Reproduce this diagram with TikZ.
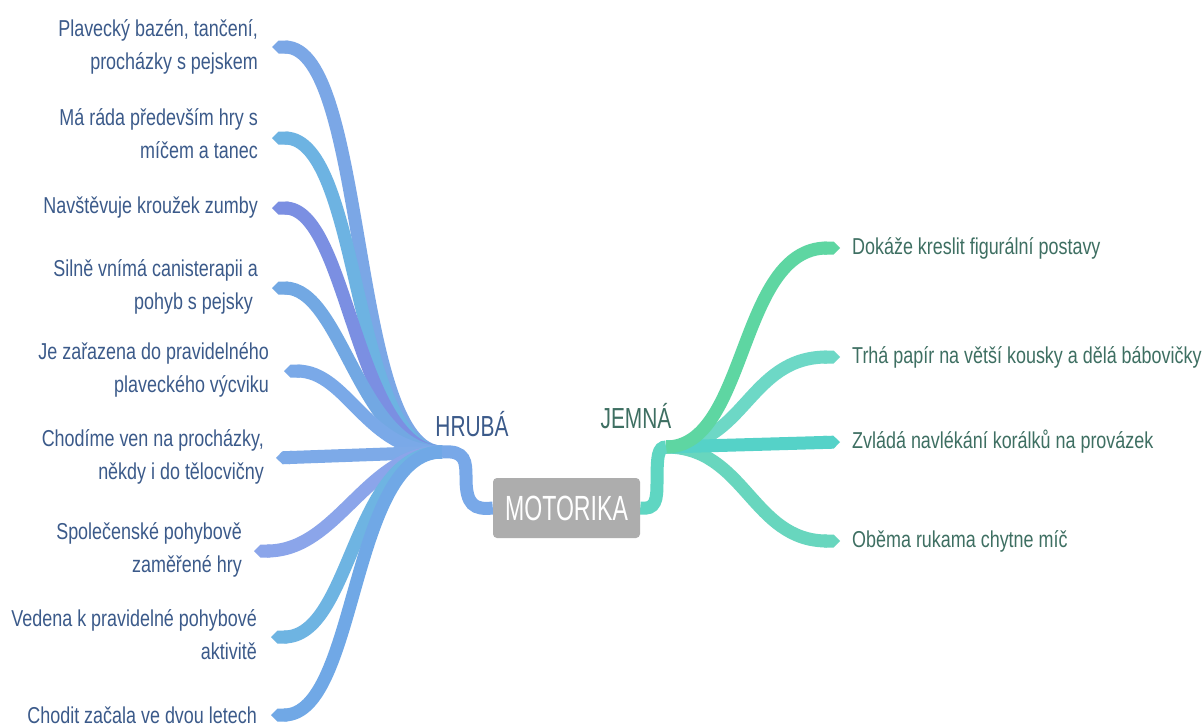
\documentclass[tikz,border=0pt]{standalone}
\usepackage{fontspec}
\setmainfont{Liberation Sans}[FakeStretch=0.78]
\newfontfamily\headfont{Liberation Sans}[FakeStretch=0.72]
\newfontfamily\rootfont{Liberation Sans}[FakeStretch=0.66]
\usetikzlibrary{arrows.meta,backgrounds}

\definecolor{leftink}{HTML}{3B5A8A}
\definecolor{rightink}{HTML}{3E6F62}
\definecolor{rootgray}{HTML}{ADADAD}
\definecolor{bA}{HTML}{7BA7E6}
\definecolor{bB}{HTML}{6DB3E2}
\definecolor{bC}{HTML}{7B8FE2}
\definecolor{bD}{HTML}{72A8E3}
\definecolor{bE}{HTML}{7AA9E8}
\definecolor{bF}{HTML}{7DAAE8}
\definecolor{bG}{HTML}{8BA5EA}
\definecolor{bH}{HTML}{6EB4E2}
\definecolor{bI}{HTML}{70A8E6}
\definecolor{gA}{HTML}{5ED6A2}
\definecolor{gB}{HTML}{6DD8C6}
\definecolor{gC}{HTML}{55D2C8}
\definecolor{gD}{HTML}{68D6BE}
\definecolor{conL}{HTML}{78A8E8}
\definecolor{conR}{HTML}{5FD6C2}

\tikzset{
  leafL/.style={anchor=east, align=right, text=leftink, inner sep=0pt,
    font=\fontsize{23}{33}\selectfont},
  leafR/.style={anchor=west, text=rightink, inner sep=0pt,
    font=\fontsize{23}{33}\selectfont},
  headL/.style={text=leftink, inner sep=0pt, font=\headfont\fontsize{29}{29}\selectfont},
  headR/.style={text=rightink, inner sep=0pt, font=\headfont\fontsize{29}{29}\selectfont},
  rootbox/.style={fill=rootgray, rounded corners=4pt, text=white, inner sep=0pt,
    minimum width=147pt, minimum height=60pt,
    font=\rootfont\fontsize{35}{35}\selectfont},
  branch/.style={line width=13pt, -{Triangle Cap}},
  link/.style={line width=13pt, line cap=butt}
}

\begin{document}
\begin{tikzpicture}[x=1pt, y=-1pt]
\useasboundingbox (0,0) rectangle (1204,726);

% central topic
\node[rootbox] (motorika) at (566.5,508) {MOTORIKA};

% branch labels
\node[headL] (hruba) at (472,424) {HRUBÁ};
\node[headR] (jemna) at (636,416) {JEMNÁ};

% hubs
\coordinate (hubL) at (442,452);
\coordinate (hubR) at (666,447);

% left leaves
\node[leafL] (l1) at (258,47) {Plavecký bazén, tančení,\\procházky s pejskem};
\node[leafL] (l2) at (258,134) {Má ráda především hry s\\míčem a tanec};
\node[leafL] (l3) at (258,208) {Navštěvuje kroužek zumby};
\node[leafL] (l4) at (258,287) {Silně vnímá canisterapii a\\pohyb s pejsky\phantom{ }};
\node[leafL] (l5) at (269,370) {Je zařazena do pravidelného\\plaveckého výcviku};
\node[leafL] (l6) at (264,457) {Chodíme ven na procházky,\\někdy i do tělocvičny};
\node[leafL] (l7) at (242,550) {Společenské pohybově\\zaměřené hry};
\node[leafL] (l8) at (257,635) {Vedena k pravidelné pohybové\\aktivitě};
\node[leafL] (l9) at (257,715) {Chodit začala ve dvou letech};

% right leaves
\node[leafR] (r1) at (852,248) {Dokáže kreslit figurální postavy};
\node[leafR] (r2) at (852,357) {Trhá papír na větší kousky a dělá bábovičky};
\node[leafR] (r3) at (852,442) {Zvládá navlékání korálků na provázek};
\node[leafR] (r4) at (852,541) {Oběma rukama chytne míč};

% branch end points
\coordinate (e1) at (272,47);
\coordinate (e2) at (272,138);
\coordinate (e3) at (272,208);
\coordinate (e4) at (272,288);
\coordinate (e5) at (284,371);
\coordinate (e6) at (276,458);
\coordinate (e7) at (254,551);
\coordinate (e8) at (271,637);
\coordinate (e9) at (271,715);
\coordinate (f1) at (840,248);
\coordinate (f2) at (840,357);
\coordinate (f3) at (840,442);
\coordinate (f4) at (840,541);

\begin{scope}[on background layer]
  \fill[white] (0,0) rectangle (1204,726);
  % left branches
  \draw[branch, bA] (hubL) .. controls (350,452) and (368,47) .. (e1);
  \draw[branch, bB] (hubL) .. controls (352,452) and (362,138) .. (e2);
  \draw[branch, bC] (hubL) .. controls (356,452) and (348,208) .. (e3);
  \draw[branch, bD] (hubL) .. controls (360,452) and (342,288) .. (e4);
  \draw[branch, bE] (hubL) .. controls (366,452) and (348,371) .. (e5);
  \draw[branch, bF] (hubL) -- (e6);
  \draw[branch, bG] (hubL) .. controls (366,452) and (338,551) .. (e7);
  \draw[branch, bH] (hubL) .. controls (352,452) and (352,637) .. (e8);
  \draw[branch, bI] (hubL) .. controls (350,452) and (358,715) .. (e9);
  % right branches
  \draw[branch, gB] (hubR) .. controls (745,447) and (748,357) .. (f2);
  \draw[branch, gD] (hubR) .. controls (745,447) and (752,541) .. (f4);
  \draw[branch, gC] (hubR) -- (f3);
  \draw[branch, gA] (hubR) .. controls (748,447) and (738,248) .. (f1);
  % links to the central topic
  \draw[link, conL] (hubL) .. controls (466,450) and (466,462) .. (466,478)
        .. controls (466,505) and (474,510) .. (motorika.west);
  \draw[link, conR] (motorika.east) .. controls (656,510) and (657,500) .. (657,482)
        .. controls (657,456) and (658,447) .. (hubR);
\end{scope}
\end{tikzpicture}
\end{document}
